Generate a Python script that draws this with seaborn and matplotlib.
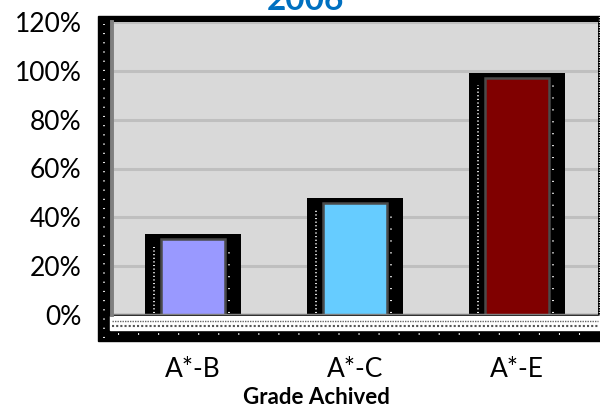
import matplotlib
matplotlib.use('Agg')
import matplotlib.pyplot as plt
import matplotlib.patches as mpatches
import pandas as pd
import seaborn as sns

# data
grades = ["A*-B", "A*-C", "A*-E"]
pass_rate = [0.31, 0.46, 0.97]
bar_colors = ["#9999ff", "#66ccff", "#800000"]
yticks = [0, 0.2, 0.4, 0.6, 0.8, 1.0, 1.2]

df = pd.DataFrame({"grade": grades, "rate": pass_rate})
shadow = df.assign(rate=df["rate"] + 0.02)

sns.set_theme(style="white")
plt.rcParams['font.family'] = ['Lato', 'DejaVu Sans']

W, H = 600, 408
fig = plt.figure(figsize=(6, 4.08), dpi=100)

def fx(px):
    return px / W

def fy(py):
    return 1 - py / H

# black frame and white floor behind the plot area
fig.patches.append(mpatches.Rectangle((fx(98), fy(341)), fx(502), fy(16) - fy(341),
                                      transform=fig.transFigure, color="black", zorder=0))
fig.patches.append(mpatches.Rectangle((fx(110), fy(330)), fx(490), fy(316) - fy(330),
                                      transform=fig.transFigure, color="white", zorder=0.2))

ax = fig.add_axes([fx(112), fy(315), fx(598) - fx(112), fy(22) - fy(315)])
ax.set_zorder(1)
ax.set_facecolor("#d9d9d9")

# black shadow boxes behind bars
sns.barplot(data=shadow, x="grade", y="rate", color="black", width=0.59,
            ax=ax, zorder=2, saturation=1, edgecolor="black", linewidth=0)
sns.barplot(data=df, x="grade", y="rate", hue="grade", palette=bar_colors,
            width=0.40, ax=ax, zorder=3, saturation=1, legend=False,
            edgecolor="#4a4a4a", linewidth=1.8)
ax.set_ylim(0, 1.2)
ax.set_xlim(-0.5, 2.5)

# white dotted texture along shadow sides
for i, v in enumerate(pass_rate):
    ax.plot([i - 0.24, i - 0.24], [0.01, v - 0.03], color="white", lw=1.3,
            ls=(0, (0.6, 1.4)), zorder=4)
    ax.plot([i + 0.225, i + 0.225], [0.01, v - 0.03], color="white", lw=1.3,
            ls=(0, (0.6, 6)), zorder=4)

ax.set_yticks(yticks)
ax.set_yticklabels([f"{int(round(t * 100))}%" for t in yticks])
ax.yaxis.grid(True, color="#bfbfbf", lw=2.2)
ax.set_axisbelow(True)
ax.axhline(0, color="#808080", lw=2.5, zorder=5)
for s in ["top", "right", "bottom"]:
    ax.spines[s].set_visible(False)
ax.spines["left"].set_color("#808080")
ax.spines["left"].set_linewidth(2.8)
ax.tick_params(axis="y", length=8, width=2, color="#808080", pad=14,
               labelsize=19, labelcolor="black")
ax.tick_params(axis="x", length=0, pad=30, labelsize=19, labelcolor="black")
ax.set_xlabel("")
ax.set_ylabel("")

# dotted texture on the left strip, right edge and floor
fig.lines.append(plt.Line2D([fx(104), fx(104)], [fy(338), fy(24)], transform=fig.transFigure,
                            color="white", lw=1.3, ls=(0, (0.6, 4.5)), zorder=0.5))
fig.lines.append(plt.Line2D([fx(598.5), fx(598.5)], [fy(330), fy(16)], transform=fig.transFigure,
                            color="white", lw=1, ls=(0, (0.6, 1.2)), zorder=0.5))
fig.lines.append(plt.Line2D([fx(112), fx(598)], [fy(321), fy(321)], transform=fig.transFigure,
                            color="#666666", lw=1, ls=(0, (1, 0.8)), zorder=0.5))
fig.lines.append(plt.Line2D([fx(112), fx(598)], [fy(326), fy(326)], transform=fig.transFigure,
                            color="#555555", lw=1.5, ls=(0, (1, 1)), zorder=0.5))
fig.lines.append(plt.Line2D([fx(118), fx(598)], [fy(334), fy(334)], transform=fig.transFigure,
                            color="white", lw=1.3, ls=(0, (0.6, 10.5)), zorder=0.5))

fig.text(fx(316), fy(398), "Grade Achived", ha="center", va="center", fontsize=16,
         fontweight="bold", color="black")
fig.text(fx(305), fy(10), "2006", ha="center", va="baseline", fontsize=24,
         fontweight="bold", color="#0070c0")

fig.savefig("out.png", dpi=100)
